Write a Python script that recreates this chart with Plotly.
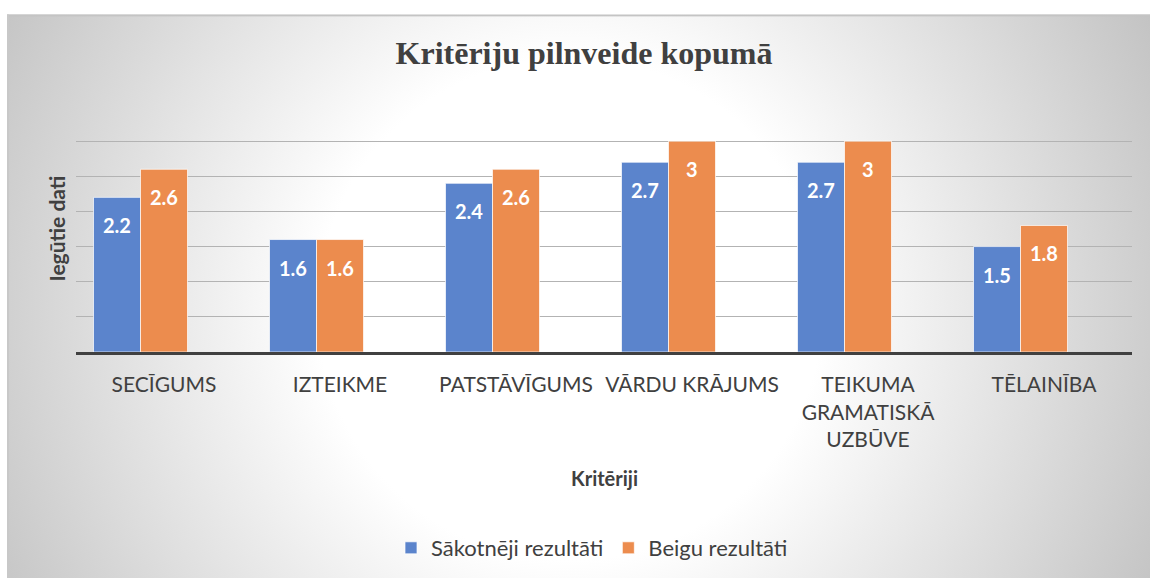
import base64
import plotly.graph_objects as go

categories = ["SECĪGUMS", "IZTEIKME", "PATSTĀVĪGUMS", "VĀRDU KRĀJUMS",
              "TEIKUMA<br>GRAMATISKĀ<br>UZBŪVE", "TĒLAINĪBA"]
initial_values = [2.2, 1.6, 2.4, 2.7, 2.7, 1.5]
final_values = [2.6, 1.6, 2.6, 3, 3, 1.8]
series_names = ["Sākotnēji rezultāti", "Beigu rezultāti"]
title_text = "Kritēriju pilnveide kopumā"
x_title = "Kritēriji"
y_title = "Iegūtie dati"

BLUE = "#5B84CC"
ORANGE = "#EC8C4E"
TXT = "#404040"

W, H = 1150, 580
ML, MR, MT, MB = 76, 18, 106, 227
PW, PH = W - ML - MR, H - MT - MB

BX, BY = 7, 14
BW, BH = W - BX, H - BY
svg = (
    f'<svg xmlns="http://www.w3.org/2000/svg" width="{BW}" height="{BH}" viewBox="0 0 {BW} {BH}" preserveAspectRatio="none">'
    f'<defs><radialGradient id="g" cx="{570 - BX}" cy="{310 - BY}" r="700" gradientUnits="userSpaceOnUse">'
    '<stop offset="0" stop-color="#ffffff"/><stop offset="0.36" stop-color="#ffffff"/>'
    '<stop offset="1" stop-color="#bcbcbc"/></radialGradient></defs>'
    f'<rect x="0" y="0" width="{BW}" height="{BH}" fill="url(#g)"/>'
    f'<rect x="0" y="0" width="{BW}" height="2" fill="#c4c4c4"/>'
    f'<rect x="0" y="0" width="2" height="{BH}" fill="#c8c8c8"/>'
    '</svg>'
)
bg_src = "data:image/svg+xml;base64," + base64.b64encode(svg.encode()).decode()

bar_w = 0.267
fig = go.Figure()
fig.add_trace(go.Bar(x=categories, y=initial_values, name=series_names[0],
                     marker=dict(color=BLUE, line=dict(color="rgba(255,255,255,0.7)", width=1)),
                     width=bar_w, offset=-1.5 * bar_w))
fig.add_trace(go.Bar(x=categories, y=final_values, name=series_names[1],
                     marker=dict(color=ORANGE, line=dict(color="rgba(255,255,255,0.7)", width=1)),
                     width=bar_w, offset=-0.5 * bar_w))

px_per_cat = PW / len(categories)
annotations = []
for vals, k in ((initial_values, -1), (final_values, 0)):
    for c, v in zip(categories, vals):
        annotations.append(dict(x=c, y=v, xref="x", yref="y", text=f"<b>{v:g}</b>",
                                showarrow=False, xshift=k * bar_w * px_per_cat, yshift=-28,
                                yanchor="middle",
                                font=dict(family="Lato", size=20, color="white")))
annotations.append(dict(x=0.5, y=((H - MB) - 480) / PH, xref="paper", yref="paper",
                        text=f"<b>{x_title}</b>", showarrow=False,
                        yanchor="middle", font=dict(family="Lato", size=20, color=TXT)))
annotations.append(dict(x=(57 - ML) / PW, y=((H - MB) - 229) / PH, xref="paper", yref="paper",
                        text=f"<b>{y_title}</b>", showarrow=False, textangle=-90,
                        xanchor="center", yanchor="middle",
                        font=dict(family="Lato", size=21, color=TXT)))

fig.update_layout(
    width=W, height=H,
    margin=dict(l=ML, r=MR, t=MT, b=MB),
    paper_bgcolor="white", plot_bgcolor="rgba(0,0,0,0)",
    title=dict(text=f"<b>{title_text}</b>", x=584 / W, xanchor="center",
               y=1 - 53 / H, yanchor="middle",
               font=dict(family="Liberation Serif", size=32, color=TXT)),
    showlegend=True,
    legend=dict(orientation="h", x=(592 - ML) / PW, xanchor="center",
                y=((H - MB) - 548) / PH, yanchor="middle",
                font=dict(family="Lato", size=22, color=TXT),
                bgcolor="rgba(0,0,0,0)", itemwidth=30),
    annotations=annotations,
    images=[dict(source=bg_src, xref="paper", yref="paper",
                 x=(BX - ML) / PW, y=1 + (MT - BY) / PH,
                 sizex=BW / PW, sizey=BH / PH,
                 xanchor="left", yanchor="top", sizing="stretch", layer="below")],
)
fig.update_xaxes(showline=True, linecolor=TXT, linewidth=3, ticks="",
                 tickfont=dict(family="Lato", size=21, color=TXT),
                 ticklabelstandoff=12, showgrid=False)
fig.update_yaxes(range=[0, 3.5], dtick=0.5, showticklabels=False, zeroline=False,
                 gridcolor="#b3b3b3", gridwidth=1, showline=False)

fig.write_html("out.html", config={"displayModeBar": False},
               post_script="document.body.style.margin='0';document.body.style.overflow='hidden';")
